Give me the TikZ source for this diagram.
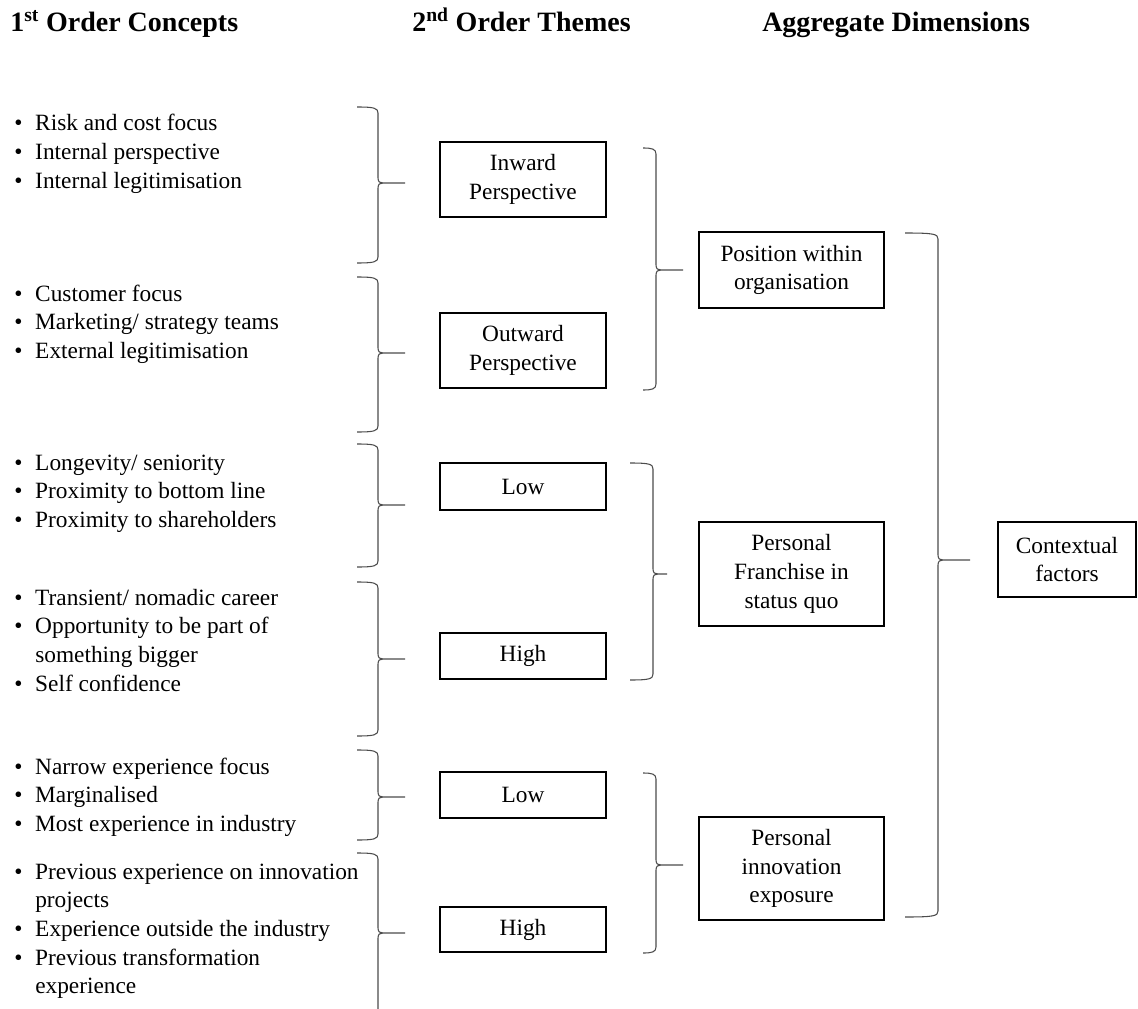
\documentclass[tikz,border=0pt]{standalone}
\usepackage{fontspec}
\setmainfont{Liberation Serif}
\colorlet{bracecol}{black!70}
\tikzstyle{heading}=[anchor=base west,inner sep=0pt,font=\fontsize{21}{25}\selectfont\bfseries]
\tikzstyle{concepts}=[anchor=base west,inner sep=0pt,font=\fontsize{17.5}{21.5}\selectfont]
\tikzstyle{theme}=[draw,line width=1.3pt,minimum width=124.5pt,align=center,inner sep=0pt,font=\fontsize{17.5}{21.5}\selectfont]
\tikzstyle{dim}=[theme,minimum width=138.75pt]
\tikzstyle{brace}=[line width=0.8pt,bracecol]
\def\fbrace#1#2#3#4#5#6{\draw[brace] (#1,#3) .. controls (#2-4,#3) and (#2,#3+1) .. (#2,#3+6) -- (#2,#4-5) .. controls (#2,#4-1) and (#2+2,#4) .. (#2+5,#4) -- (#6,#4) (#2+5,#4) .. controls (#2+2,#4) and (#2,#4+1) .. (#2,#4+5) -- (#2,#5-6) .. controls (#2,#5-1) and (#2-4,#5) .. (#1,#5)}
\newcommand{\blt}{\textbullet}

\begin{document}
\begin{tikzpicture}[x=0.75pt,y=-0.75pt]
        \useasboundingbox (0,0) rectangle (1138,1009);

        \node[heading] (h1) at (10,32) {1\textsuperscript{st} Order Concepts};
        \node[heading] (h2) at (412,32) {2\textsuperscript{nd} Order Themes};
        \node[heading] (h3) at (762,32) {Aggregate Dimensions};

        \node[concepts] (c1) at (14,131) {\begin{tabular}[t]{@{}p{15.75pt}@{}l@{}}
            \blt & Risk and cost focus\\ \blt & Internal perspective\\ \blt & Internal legitimisation\end{tabular}};
        \node[concepts] (c2) at (14,301) {\begin{tabular}[t]{@{}p{15.75pt}@{}l@{}}
            \blt & Customer focus\\ \blt & Marketing/ strategy teams\\ \blt & External legitimisation\end{tabular}};
        \node[concepts] (c3) at (14,470) {\begin{tabular}[t]{@{}p{15.75pt}@{}l@{}}
            \blt & Longevity/ seniority\\ \blt & Proximity to bottom line\\ \blt & Proximity to shareholders\end{tabular}};
        \node[concepts] (c4) at (14,605) {\begin{tabular}[t]{@{}p{15.75pt}@{}l@{}}
            \blt & Transient/ nomadic career\\ \blt & Opportunity to be part of\\ & something bigger\\ \blt & Self confidence\end{tabular}};
        \node[concepts] (c5) at (14,774) {\begin{tabular}[t]{@{}p{15.75pt}@{}l@{}}
            \blt & Narrow experience focus\\ \blt & Marginalised\\ \blt & Most experience in industry\end{tabular}};
        \node[concepts] (c6) at (14,879) {\begin{tabular}[t]{@{}p{15.75pt}@{}l@{}}
            \blt & Previous experience on innovation\\ & projects\\ \blt & Experience outside the industry\\ \blt & Previous transformation\\ & experience\end{tabular}};

        \node[theme,minimum height=56.25pt] (inw) at (523,179.5) {Inward\\Perspective};
        \node[theme,minimum height=56.25pt] (outw) at (523,350.5) {Outward\\Perspective};
        \node[theme,minimum height=35.25pt] (lowf) at (523,486.5) {Low};
        \node[theme,minimum height=34.5pt] (highf) at (523,656) {High};
        \node[theme,minimum height=34.5pt] (lowx) at (523,795) {Low};
        \node[theme,minimum height=33.75pt] (highx) at (523,929.5) {High};

        \node[dim,minimum height=57pt] (pos) at (791.5,270) {Position within\\organisation};
        \node[dim,minimum height=78pt] (fran) at (791.5,574) {Personal\\Franchise in\\status quo};
        \node[dim,minimum height=77.25pt] (innov) at (791.5,868.5) {Personal\\innovation\\exposure};
        \node[theme,minimum width=103.5pt,minimum height=56.25pt] (ctx) at (1067,559.5) {Contextual\\factors};

        \fbrace{357}{378}{107}{183}{263}{405};
        \fbrace{357}{378}{277}{353}{432}{405};
        \fbrace{357}{378}{444}{505}{567}{405};
        \fbrace{357}{378}{582}{659}{736}{405};
        \fbrace{357}{378}{750}{797}{840}{405};
        \draw[brace] (357,853) .. controls (374,853) and (378,854) .. (378,859) -- (378,928) .. controls (378,932) and (380,933) .. (383,933) -- (405,933)
            (383,933) .. controls (380,933) and (378,934) .. (378,938) -- (378,1009);

        \fbrace{643}{656}{148}{270}{390}{683};
        \fbrace{630}{653}{463}{574}{680}{667};
        \fbrace{643}{656}{773}{865}{953}{683};
        \fbrace{905}{938}{233}{560}{917}{970};
    \end{tikzpicture}
\end{document}
